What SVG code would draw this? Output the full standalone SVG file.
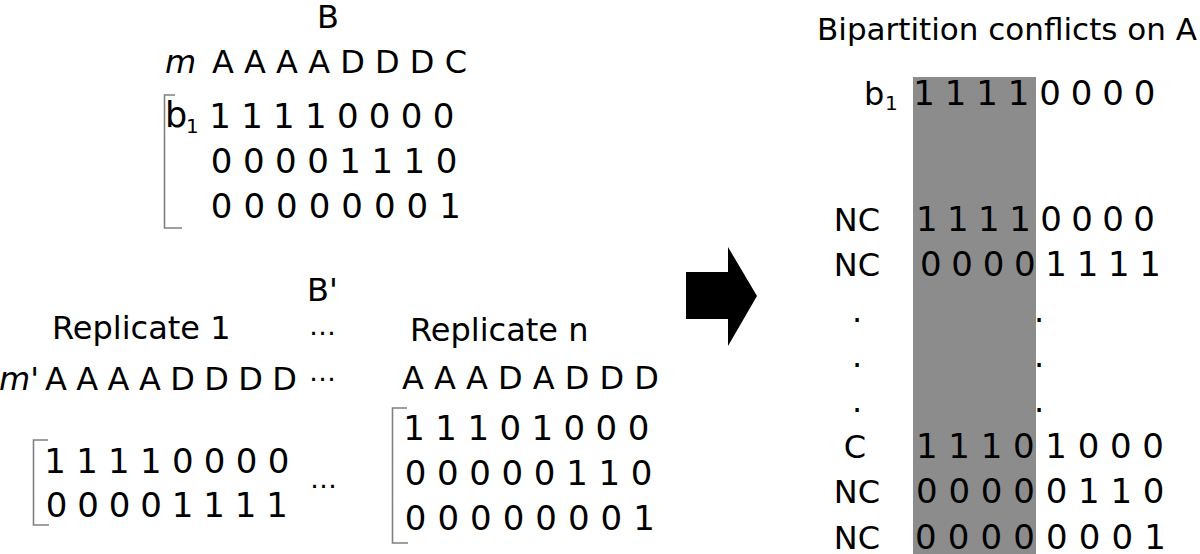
<svg xmlns="http://www.w3.org/2000/svg" width="1200" height="554" viewBox="0 0 1200 554">
<style>
text{font-family:"DejaVu Sans","Liberation Sans",sans-serif;fill:#000}
.l{font-size:32px}
.d{font-size:34px}
.t{font-size:31px}
.it{font-size:32px;font-style:italic}
.sub{font-size:20px}
.el{font-size:27px}
.c{text-anchor:middle}
.br{fill:none;stroke:#808080;stroke-width:1.6}
</style>
<rect width="1200" height="554" fill="#fff"/>
<g id="matrix-B">
<text class="l c" x="328" y="28">B</text>
<text class="it" x="165" y="73">m</text>
<text class="l" x="212" y="73" textLength="255" lengthAdjust="spacing">A A A A D D D C</text>
<path class="br" d="M175,95 H164.5 V228 H182"/>
<text style="font-size:35px" x="165" y="127">b</text><text class="sub" x="186" y="133">1</text>
<text class="d" x="209.3" y="128" textLength="245" lengthAdjust="spacing">1 1 1 1 0 0 0 0</text>
<text class="d" x="210.8" y="173" textLength="246.5" lengthAdjust="spacing">0 0 0 0 1 1 1 0</text>
<text class="d" x="210.8" y="218" textLength="250" lengthAdjust="spacing">0 0 0 0 0 0 0 1</text>
</g>
<g id="matrix-Bprime">
<text class="l" x="307" y="301">B'</text>
<text class="l" x="52" y="339">Replicate 1</text>
<text class="el" x="309" y="335">…</text>
<text class="it" x="-1" y="390">m'</text>
<text class="l" x="45" y="390" textLength="252" lengthAdjust="spacing">A A A A D D D D</text>
<text class="el" x="309" y="381">…</text>
<path class="br" d="M48,440 H33.5 V525 H49"/>
<text class="d" x="44.3" y="473" textLength="245" lengthAdjust="spacing">1 1 1 1 0 0 0 0</text>
<text class="d" x="45.8" y="517" textLength="242" lengthAdjust="spacing">0 0 0 0 1 1 1 1</text>
<text class="el" x="310" y="488">…</text>
<text class="l" x="410" y="341">Replicate n</text>
<text class="l" x="402" y="389" textLength="257" lengthAdjust="spacing">A A A D A D D D</text>
<path class="br" d="M407,408 H392.5 V543 H408"/>
<text class="d" x="403.3" y="440" textLength="246" lengthAdjust="spacing">1 1 1 0 1 0 0 0</text>
<text class="d" x="404.8" y="485" textLength="247.5" lengthAdjust="spacing">0 0 0 0 0 1 1 0</text>
<text class="d" x="404.8" y="530" textLength="250" lengthAdjust="spacing">0 0 0 0 0 0 0 1</text>
</g>
<g id="connectors">
<polygon id="arrow" points="686,272 728,272 728,247 757,296 728,346 728,319 686,319" fill="#000"/>
</g>
<g id="conflicts">
<text class="t" x="817" y="40">Bipartition conflicts on A</text>
<rect x="913" y="77" width="123" height="477" fill="#8c8c8c"/>
<text class="l" x="864" y="105">b</text><text class="sub" x="885" y="110">1</text>
<text class="d" x="913.3" y="105" textLength="242" lengthAdjust="spacing">1 1 1 1 0 0 0 0</text>
<text class="l c" x="857" y="231">NC</text>
<text class="d" x="916" y="231" textLength="239" lengthAdjust="spacing">1 1 1 1 0 0 0 0</text>
<text class="l c" x="857" y="276">NC</text>
<text class="d" x="920" y="276" textLength="241" lengthAdjust="spacing">0 0 0 0 1 1 1 1</text>
<text class="l c" x="857" y="322">.</text>
<text class="l c" x="857" y="367">.</text>
<text class="l c" x="857" y="412">.</text>
<text class="l c" x="1039" y="322">.</text>
<text class="l c" x="1039" y="367">.</text>
<text class="l c" x="1039" y="412">.</text>
<text class="l c" x="855" y="458">C</text>
<text class="d" x="916" y="458" textLength="248" lengthAdjust="spacing">1 1 1 0 1 0 0 0</text>
<text class="l c" x="857" y="503">NC</text>
<text class="d" x="916" y="503" textLength="248.5" lengthAdjust="spacing">0 0 0 0 0 1 1 0</text>
<text class="l c" x="857" y="549">NC</text>
<text class="d" x="915" y="549" textLength="251" lengthAdjust="spacing">0 0 0 0 0 0 0 1</text>
</g>
</svg>
